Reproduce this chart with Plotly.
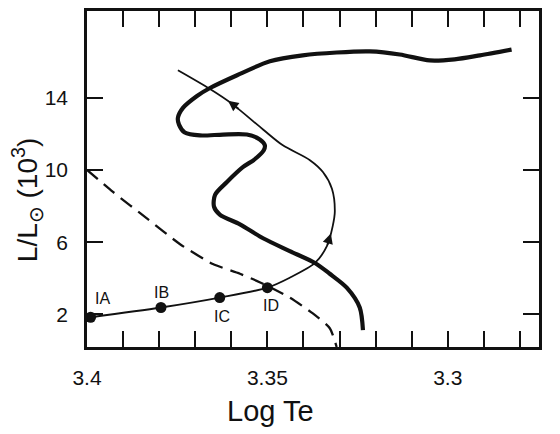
import plotly.graph_objects as go

# ---- data (Log Te, L/Lsun in 10^3) ----
dot_labels = ["IA", "IB", "IC", "ID"]
dot_x = [3.3990, 3.3795, 3.3632, 3.3500]
dot_y = [1.84, 2.38, 2.93, 3.48]

thin_x = [3.3990, 3.3795, 3.3632, 3.3500, 3.3438, 3.3368, 3.3335, 3.3319, 3.3313,
          3.3321, 3.3346, 3.3382, 3.3457, 3.3512, 3.3598, 3.3659, 3.3748]
thin_y = [1.84, 2.38, 2.93, 3.48, 4.03, 4.85, 5.78, 6.88, 7.70,
          8.96, 9.89, 10.55, 11.37, 12.25, 13.67, 14.49, 15.53]

thick_x = [3.3235, 3.3244, 3.3280, 3.3327, 3.3368, 3.3438, 3.3512, 3.3576, 3.3632,
           3.3648, 3.3645, 3.3612, 3.3568, 3.3535, 3.3510, 3.3507, 3.3521, 3.3557,
           3.3623, 3.3687, 3.3729, 3.3745, 3.3748, 3.3734, 3.3695, 3.3659, 3.3584,
           3.3493, 3.3402, 3.3308, 3.3216, 3.3133, 3.3050, 3.2981, 3.2911, 3.2823]
thick_y = [1.12, 2.38, 3.48, 4.25, 4.85, 5.51, 6.22, 6.99, 7.53,
           7.97, 8.63, 9.34, 10.16, 10.60, 11.10, 11.37, 11.70, 11.97,
           11.97, 11.92, 12.08, 12.52, 12.90, 13.45, 14.11, 14.55, 15.26,
           16.03, 16.36, 16.52, 16.58, 16.41, 16.08, 16.14, 16.36, 16.68]

dash_x = [3.4000, 3.3928, 3.3834, 3.3742, 3.3651, 3.3576, 3.3512, 3.3438,
          3.3374, 3.3327, 3.3308]
dash_y = [10.01, 8.79, 7.32, 5.89, 4.79, 4.25, 3.70, 2.93, 2.05, 1.23, 0.19]

# arrow heads on the thin track: (tail, tip)
arrow_tail_x = [3.3335, 3.3576]
arrow_tail_y = [5.78, 13.34]
arrow_tip_x = [3.3324, 3.3609]
arrow_tip_y = [6.49, 13.84]

x_major = [3.4, 3.35, 3.3]
x_major_text = ["3.4", "3.35", "3.3"]
x_minor = [round(3.40 - 0.01 * i, 2) for i in range(13)]
y_ticks = [2, 6, 10, 14]

FONT = "Liberation Sans"
INK = "#111111"

fig = go.Figure()
fig.add_trace(go.Scatter(x=dash_x, y=dash_y, mode="lines",
                         line=dict(color=INK, width=2.3, dash="14px,8px",
                                   shape="spline", smoothing=0.6),
                         hoverinfo="skip"))
fig.add_trace(go.Scatter(x=thick_x, y=thick_y, mode="lines",
                         line=dict(color=INK, width=4.2, shape="spline", smoothing=0.8),
                         hoverinfo="skip"))
fig.add_trace(go.Scatter(x=thin_x, y=thin_y, mode="lines",
                         line=dict(color=INK, width=1.8, shape="spline", smoothing=0.8),
                         hoverinfo="skip"))
fig.add_trace(go.Scatter(x=dot_x, y=dot_y, mode="markers",
                         marker=dict(color=INK, size=11), cliponaxis=False,
                         hoverinfo="skip"))

# arrowheads along the thin track
for tx, ty, hx, hy in zip(arrow_tail_x, arrow_tail_y, arrow_tip_x, arrow_tip_y):
    fig.add_annotation(x=hx, y=hy, ax=tx, ay=ty, xref="x", yref="y",
                       axref="x", ayref="y", text="", showarrow=True,
                       arrowhead=2, arrowsize=1.15, arrowwidth=1.8,
                       arrowcolor=INK, standoff=0, startstandoff=0)

label_shift = {"IA": (12, 19), "IB": (1, 15), "IC": (2, -19), "ID": (4, -18)}
for lab, xx, yy in zip(dot_labels, dot_x, dot_y):
    dx, dy = label_shift[lab]
    fig.add_annotation(x=xx, y=yy, text=lab, showarrow=False, xshift=dx, yshift=dy,
                       font=dict(family=FONT, size=16, color=INK))

# axis titles
fig.add_annotation(xref="paper", yref="paper", x=0.406, y=-0.19,
                   text="Log Te", showarrow=False, xanchor="center", yanchor="middle",
                   font=dict(family=FONT, size=29, color=INK))
fig.add_annotation(xref="paper", yref="paper", x=-0.132, y=0.438,
                   text="L/L<sub>⊙</sub> (10<sup>3</sup>)", textangle=-90,
                   showarrow=False, xanchor="center", yanchor="middle",
                   font=dict(family=FONT, size=28, color=INK))

axis_common = dict(showline=True, linewidth=2.5, linecolor=INK, mirror="ticks",
                   ticks="inside", ticklen=16, tickwidth=1.8, tickcolor=INK,
                   showgrid=False, zeroline=False,
                   tickfont=dict(family=FONT, size=21, color=INK))

fig.update_layout(
    width=560, height=434,
    margin=dict(l=79, r=29, t=0, b=95),
    paper_bgcolor="white", plot_bgcolor="white",
    showlegend=False,
    xaxis=dict(range=[3.4, 3.2747], tickmode="array", tickvals=x_major,
               ticktext=x_major_text, ticklabelstandoff=10,
               minor=dict(tickmode="array", tickvals=x_minor, ticks="inside",
                          ticklen=16, tickwidth=1.8, tickcolor=INK, showgrid=False),
               **axis_common),
    yaxis=dict(range=[0.19, 18.82], tickmode="array", tickvals=y_ticks,
               ticktext=[str(v) for v in y_ticks], ticklabelstandoff=12,
               **axis_common),
)

fig.write_html("out.html")
